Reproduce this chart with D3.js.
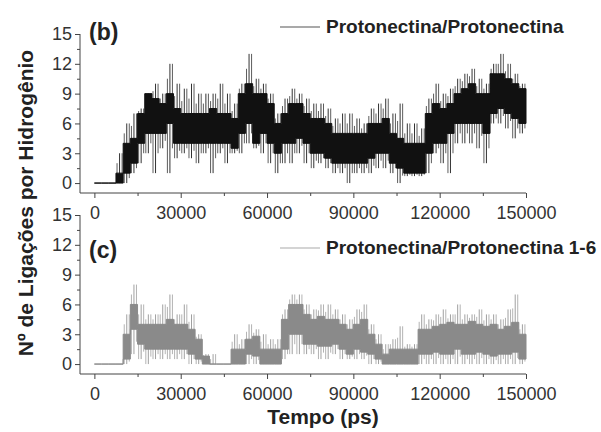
<!DOCTYPE html>
<html><head><meta charset="utf-8">
<script src="https://cdn.jsdelivr.net/npm/d3@7"></script>
<style>body{margin:0;background:#fff}svg{display:block}text{font-family:"Liberation Sans",Arial,sans-serif}</style>
</head><body><svg id="c" width="601" height="432"></svg>
<script>
// bin start times (ps), each bin 2500 ps wide
const binStart = d3.range(0, 150000, 2500);
const binWidth = 2500;
const xTicks = [0, 30000, 60000, 90000, 120000, 150000];
const yTicks = [0, 3, 6, 9, 12, 15];

// (b) Protonectina/Protonectina : min, lower core, upper core, max per bin
const bLo = [0,0,0,0,0,1,2,3,1,3.5,1,2.5,3,2.5,2,3,1,3,2,3,3,4,3.5,3,2,1,2,2,3,2,1.5,2,1.5,1,1,0,1,1,1,1.5,1.5,1,0,0.7,0.7,0.7,1,3,2,1,4,4,4,3.5,2,6,6,5.5,4.5,5];
const bQ1 = [0,0,0,0,1,2,4,5,5,5,6,4,4,4,4,4,4,4,4,3.5,5,6,4,5,4,3,4,4,4.5,4,3,3,2.5,2,2,2,2,2,2.5,3,3,2,1.5,1,1,1,3,4,4,5,6,6,6,6,5,7,7.5,7,6.5,6];
const bQ3 = [0,0,0,1,4,4.5,7,9,8.5,8,9,7.5,7,7,7,7,7.5,7,7,6.5,9,10,9,9,8,6,7,8,8,7,6.5,6.5,6,5,5,5,5,5,6,6,6.5,5,4.5,4,4,4,7,8,7.5,8,9,9.5,10,9,9,11,11,10.5,10,9.5];
const bHi = [0,0,0,3,6,7,7.5,9,10,9,12,10,9.5,10,9,9,9,10,9,8,10,13,10.5,10,9,7,8.5,9.5,9,8.5,8,8,7.5,6.5,7,7,6.5,6,7.5,8,8.5,7,8,6,6,5.5,8.5,10,9,9.5,10.5,11,11.5,10.5,10,12,13,12,11,10];

// (c) Protonectina/Protonectina 1-6
const cLo = [0,0,0,0,0,1,0.5,0,0.5,0.5,0.5,0.5,0.5,0,0,0,0,0,0,0,0,0,0,0,0,0,0.5,1,1,1,1,0.5,0.5,1,0.5,0.5,0.5,0.5,0,0,0,0,0,0,0,0,0,0,0,0,0,0,0,0,0,0,0,0,0,0];
const cQ1 = [0,0,0,0,0.5,3.5,2,1.5,1.5,1.5,1.5,1.5,1.5,1,0.5,0,0,0,0,0,0,1,0.8,0,0,0,1.5,3,3,2,2,1.8,1.8,2,1.5,1,1.5,1.2,1,0.5,0,0,0,0,0,1,1,1.2,1,1,1.5,1,1,1.2,1,0.8,1,1,1.2,0.5];
const cQ3 = [0,0,0,0,3,6,4,4,4,4,4.5,4,4,3.5,2.5,0.8,0,0,0,1.5,1.5,2.5,2.8,1.5,1.5,1.5,4.5,6,6,5,4.5,4.8,4.5,4.5,4,3.5,4,4.5,3,2,1,1.5,1.5,1.5,1.5,3.5,3.5,3.8,4,4.2,4,4,4.3,4,3.8,4,3.5,3.8,4.2,3];
const cHi = [0,0,0,0,5,8,6,5,5,6,7,5,6,5,3,1,1,0,0,3,2.5,4,3.5,3,2.5,2.5,5.5,7,7,6,5.5,6,6,5.5,5,4.5,5.5,6,4,3,2,2.5,3.8,2,2,5,4.5,5,5.5,5,6,5,5,5.5,5,5,4.5,5.5,7,4];

const svg = d3.select("#c");
const x = d3.scaleLinear().domain([-5000, 150000]).range([80, 526]);

function panel(y0, y1, lo, q1, q3, hi, fill, spike, label, legend, legCol, legY, labY) {
  const y = d3.scaleLinear().domain([-1, 15]).range([y1, y0]);
  const g = svg.append("g");
  const data = binStart.map((t, i) => ({t, lo: lo[i], q1: q1[i], q3: q3[i], hi: hi[i]}));
  const stepData = data.concat([Object.assign({}, data[data.length - 1], {t: 150000})]);
  const sp = g.append("g").attr("stroke", spike);
  data.forEach(d => {
    if (d.hi === 0 && d.lo === 0) return;
    sp.append("line").attr("stroke-width", 1).attr("x1", x(d.t + binWidth / 2)).attr("x2", x(d.t + binWidth / 2)).attr("y1", y(d.lo)).attr("y2", y(d.hi));
    sp.append("line").attr("stroke-width", 0.8).attr("x1", x(d.t + binWidth * 0.15)).attr("x2", x(d.t + binWidth * 0.15)).attr("y1", y(d.lo)).attr("y2", y((d.q3 + d.hi) / 2));
    sp.append("line").attr("stroke-width", 0.8).attr("x1", x(d.t + binWidth * 0.85)).attr("x2", x(d.t + binWidth * 0.85)).attr("y1", y((d.lo + d.q1) / 2)).attr("y2", y(d.hi));
  });
  g.append("path")
    .attr("d", d3.area().x(d => x(d.t)).y0(d => y(d.q1)).y1(d => y(d.q3)).curve(d3.curveStepAfter)(stepData))
    .attr("fill", fill).attr("stroke", fill).attr("stroke-width", 1);

  // axes
  const ax = g.append("g").attr("color", "#444");
  const yAxis = ax.append("g").attr("transform", "translate(80,0)")
    .call(d3.axisLeft(y).tickValues(yTicks).tickSize(5).tickPadding(3));
  yAxis.select(".domain").attr("d", `M0,${y1}V${y(15)}`);
  yAxis.selectAll("text").attr("font-size", 18).attr("fill", "#333");
  ax.append("g").attr("transform", "translate(80,0)")
    .call(d3.axisLeft(y).tickValues(d3.range(1.5, 15, 3)).tickSize(3).tickFormat(""))
    .select(".domain").remove();
  const xAxis = ax.append("g").attr("transform", `translate(0,${y1})`)
    .call(d3.axisBottom(x).tickValues(xTicks).tickSize(5).tickPadding(8).tickFormat(d3.format("d")));
  xAxis.select(".domain").attr("d", `M80,0H526`);
  xAxis.selectAll("text").attr("font-size", 18).attr("fill", "#333");
  ax.append("g").attr("transform", `translate(0,${y1})`)
    .call(d3.axisBottom(x).tickValues(d3.range(15000, 150000, 30000)).tickSize(3).tickFormat(""))
    .select(".domain").remove();

  svg.append("text").attr("x", 89).attr("y", labY).attr("font-size", 23).attr("font-weight", "bold").attr("fill", "#222").text(label);
  svg.append("line").attr("x1", 280).attr("x2", 320).attr("y1", legY - 6).attr("y2", legY - 6).attr("stroke", legCol).attr("stroke-width", 1.2);
  svg.append("text").attr("x", 326).attr("y", legY).attr("font-size", 19).attr("font-weight", "bold").attr("fill", "#222").text(legend);
}

panel(34, 193, bLo, bQ1, bQ3, bHi, "#111", "#333", "(b)", "Protonectina/Protonectina", "#555", 33, 40);
panel(215, 374, cLo, cQ1, cQ3, cHi, "#8a8a8a", "#a0a0a0", "(c)", "Protonectina/Protonectina 1-6", "#aaa", 254, 258);

svg.append("text").attr("x", 323).attr("y", 424).attr("text-anchor", "middle").attr("font-size", 21).attr("font-weight", "bold").attr("fill", "#222").text("Tempo (ps)");
svg.append("text").attr("transform", "translate(33,203) rotate(-90)").attr("text-anchor", "middle").attr("font-size", 21).attr("font-weight", "bold").attr("fill", "#222").text("Nº de Ligações por Hidrogênio");
</script></body></html>
